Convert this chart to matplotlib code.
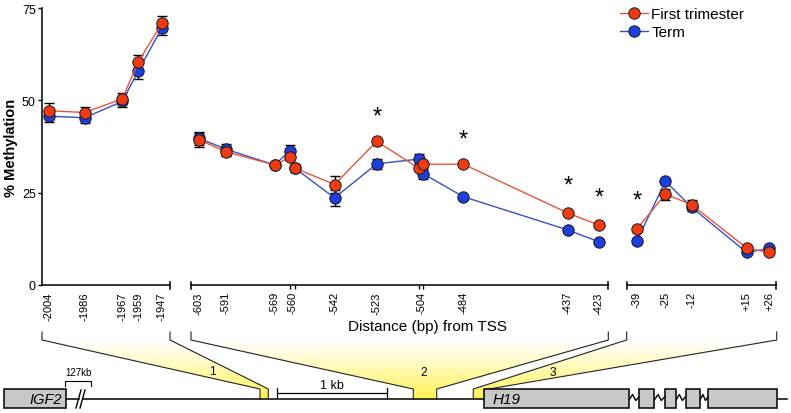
import numpy as np
import matplotlib
matplotlib.use("Agg")
import matplotlib.pyplot as plt
from matplotlib.patches import Polygon, Rectangle

plt.rcParams['font.family'] = ['Liberation Sans', 'DejaVu Sans']

# ---------------- data ----------------
x_seg1 = [-2004, -1986, -1967, -1959, -1947]
first_seg1 = [47.2, 46.7, 50.4, 60.3, 70.9]
first_err1 = [2.0, 1.6, 1.5, 2.0, 2.0]
term_seg1 = [45.7, 45.3, 49.7, 57.9, 69.6]
term_err1 = [1.5, 1.4, 1.4, 2.2, 1.9]

x_seg2 = [-603, -591, -569, -562, -560, -542, -523, -504, -502, -484, -437, -423]
first_seg2 = [39.3, 36.1, 32.5, 34.6, 31.7, 27.2, 38.9, 31.6, 32.7, 32.7, 19.5, 16.2]
first_err2 = [1.8, 1.3, 0.5, 0.8, 1.0, 2.2, 1.0, 0.8, 0.8, 0.5, 0.5, 0.5]
term_seg2 = [39.7, 36.8, 32.5, 36.4, 31.7, 23.6, 32.8, 34.1, 30.1, 23.9, 14.9, 11.7]
term_err2 = [1.8, 1.3, 0.5, 1.5, 0.8, 2.1, 1.3, 1.5, 1.4, 0.5, 0.5, 0.5]

x_seg3 = [-39, -25, -12, 15, 26]
first_seg3 = [15.2, 24.6, 21.7, 10.0, 8.8]
first_err3 = [0.5, 1.5, 1.2, 0.5, 0.5]
term_seg3 = [12.0, 28.1, 21.0, 8.8, 9.9]
term_err3 = [0.5, 0.5, 1.0, 0.5, 0.5]

label_pos1 = [-2004, -1986, -1967, -1959, -1947]
label_txt1 = ['-2004', '-1986', '-1967', '-1959', '-1947']
label_pos2 = [-603, -591, -569, -561, -542, -523, -503, -484, -437, -423]
label_txt2 = ['-603', '-591', '-569', '-560', '-542', '-523', '-504', '-484', '-437', '-423']
label_pos3 = [-39, -25, -12, 15, 26]
label_txt3 = ['-39', '-25', '-12', '+15', '+26']

star_x = [-523, -484, -437, -423]
star_y = [47.2, 40.9, 28.5, 25.3]
star_x3 = [-39]
star_y3 = [24.5]

yticks = [0, 25, 50, 75]
series_names = ['First trimester', 'Term']

# ---------------- styles ----------------
W, H = 791, 414
RED_FACE = '#f03a14'
RED_LINE = '#e4553c'
BLUE_FACE = '#1e3ee0'
BLUE_LINE = '#3550c8'
EDGE = '#1a1a1a'
MS = 8.2

fig = plt.figure(figsize=(W / 100, H / 100), dpi=100)

def add_ax(x0, x1):
    return fig.add_axes([x0 / W, 1 - 286 / H, (x1 - x0) / W, 277 / H])

axd = fig.add_axes([0, 0, 1, 1], zorder=0)
axd.set_axis_off()

ax1 = add_ax(42, 170)
ax2 = add_ax(191, 608)
ax3 = add_ax(627, 776)
for a in (ax1, ax2, ax3):
    a.set_zorder(2)
    a.set_facecolor('none')

ax1.set_xlim(-2007.5, -1942.9)
ax2.set_xlim(-606.6, -418.9)
ax3.set_xlim(-43.9, 29.4)

segs = [
    (ax1, x_seg1, first_seg1, first_err1, term_seg1, term_err1, label_pos1, label_txt1),
    (ax2, x_seg2, first_seg2, first_err2, term_seg2, term_err2, label_pos2, label_txt2),
    (ax3, x_seg3, first_seg3, first_err3, term_seg3, term_err3, label_pos3, label_txt3),
]

handles = None
for ax, xs, fv, fe, tv, te, lp, lt in segs:
    ax.set_ylim(0, 75)
    ax.errorbar(xs, tv, yerr=te, fmt='none', ecolor='black', elinewidth=1.0,
                capsize=3.5, capthick=1.0, zorder=2, clip_on=False)
    ax.errorbar(xs, fv, yerr=fe, fmt='none', ecolor='black', elinewidth=1.0,
                capsize=3.5, capthick=1.0, zorder=2, clip_on=False)
    lb, = ax.plot(xs, tv, '-o', color=BLUE_LINE, lw=1.0, markerfacecolor=BLUE_FACE,
                  markeredgecolor=EDGE, markeredgewidth=0.7, ms=MS, zorder=3, clip_on=False)
    lr, = ax.plot(xs, fv, '-o', color=RED_LINE, lw=1.0, markerfacecolor=RED_FACE,
                  markeredgecolor=EDGE, markeredgewidth=0.7, ms=MS, zorder=4, clip_on=False)
    if handles is None:
        handles = [lr, lb]
    for s in ('top', 'right', 'left'):
        ax.spines[s].set_visible(False)
    ax.spines['bottom'].set_linewidth(1.1)
    ax.set_xticks(lp)
    ax.set_xticklabels(lt, rotation=90, fontsize=8)
    ax.set_xticks(xs, minor=True)
    ax.tick_params(axis='x', which='major', length=0, pad=4.5)
    ax.tick_params(axis='x', which='minor', length=3, width=1.0, direction='out')
    dy = 3.5 / 277
    ends = [1] if ax is ax1 else [0, 1]
    for e in ends:
        ax.plot([e, e], [-dy, dy], transform=ax.transAxes, color='black', lw=1.1,
                clip_on=False)

ax1.spines['left'].set_visible(True)
ax1.spines['left'].set_linewidth(1.1)
ax1.set_yticks(yticks)
ax1.set_yticklabels([str(v) for v in yticks], fontsize=9)
ax1.tick_params(axis='y', length=3, width=1.0, pad=1.5)
for ax in (ax2, ax3):
    ax.set_yticks([])

ax1.set_ylabel('% Methylation', fontsize=10.5, fontweight='bold', va='center')
ax1.yaxis.set_label_coords((11 - 42) / 128, (286 - 148) / 277)

for sx, sy in zip(star_x, star_y):
    ax2.annotate('*', xy=(sx, sy), xytext=(0, -8.5), textcoords='offset points',
                 ha='center', va='baseline', fontsize=17)
for sx, sy in zip(star_x3, star_y3):
    ax3.annotate('*', xy=(sx, sy), xytext=(0, -8.5), textcoords='offset points',
                 ha='center', va='baseline', fontsize=17)

fig.text(428 / W, 1 - 327 / H, 'Distance (bp) from TSS', ha='center', va='center',
         fontsize=11)

fig.legend(handles, series_names, loc='upper left', bbox_to_anchor=(620 / W, 1 - 8 / H),
           frameon=False, fontsize=11, handlelength=1.85, handletextpad=0.2,
           labelspacing=0.28, borderpad=0, borderaxespad=0)

# ---------------- gene diagram ----------------
LC = '#222222'
top_y, bot_y = 341, 400
n = 120
yy = np.linspace(0, 1, n)
t = yy ** 1.1
c_top = np.array([1.0, 1.0, 1.0])
c_bot = np.array([1.0, 0.95, 0.32])
grad = (c_top[None, :] * (1 - t[:, None]) + c_bot[None, :] * t[:, None])[:, None, :]

regions = [
    (42, 170, 260, 268.3, True),
    (191, 608.3, 413.3, 436.7, True),
    (626.7, 776.7, 473.3, 484.5, False),
]
for lt_x, rt_x, lb_x, rb_x, rv in regions:
    poly = Polygon([(lt_x, top_y), (rt_x, top_y), (rb_x, 390), (rb_x, 400),
                    (lb_x, 400), (lb_x, 390)], closed=True, facecolor='none',
                   edgecolor='none')
    axd.add_patch(poly)
    im = axd.imshow(grad, extent=(0, W, bot_y, top_y), origin='upper', aspect='auto',
                    zorder=1, interpolation='bilinear')
    im.set_clip_path(poly)
    axd.plot([lt_x, lt_x, lb_x, lb_x], [333, top_y, 390, 400], color=LC, lw=0.8, zorder=2)
    if rv:
        axd.plot([rt_x, rt_x, rb_x, rb_x], [333, top_y, 390, 400], color=LC, lw=0.8, zorder=2)
    else:
        axd.plot([rt_x, rt_x, rb_x + 1.5], [333, top_y, 390.5], color=LC, lw=0.8, zorder=2)

axd.set_xlim(0, W)
axd.set_ylim(H, 0)

for lbl, (lx, ly) in zip(['1', '2', '3'], [(212.7, 372.5), (423.3, 373), (552.7, 373)]):
    axd.text(lx, ly, lbl, ha='center', va='center', fontsize=8.5, zorder=3)

axd.plot([66, 79], [400, 400], color='black', lw=1.1, zorder=3)
axd.plot([83, 484], [400, 400], color='black', lw=1.1, zorder=3)
axd.plot([777, 787], [400, 400], color='black', lw=1.1, zorder=3)
axd.plot([76, 81], [409, 391], color='black', lw=1.0, zorder=3)
axd.plot([80, 85], [409, 391], color='black', lw=1.0, zorder=3)

axd.plot([65.3, 65.3, 91.3, 91.3], [387, 381.7, 381.7, 387], color='black', lw=0.8, zorder=3)
axd.text(78.3, 373.5, '127kb', ha='center', va='center', fontsize=7, zorder=3)

axd.plot([276.7, 387.3], [394.3, 394.3], color='black', lw=0.9, zorder=3)
axd.plot([276.7, 276.7], [389.5, 399], color='black', lw=0.9, zorder=3)
axd.plot([387.3, 387.3], [389.5, 399], color='black', lw=0.9, zorder=3)
axd.text(332, 386, '1 kb', ha='center', va='center', fontsize=9, zorder=3)

GRAY = '#c8c8c8'
def box(x0, x1):
    axd.add_patch(Rectangle((x0, 390.5), x1 - x0, 19, facecolor=GRAY, edgecolor='black',
                            lw=1.1, zorder=4))

box(4, 66)
axd.text(62, 400.5, 'IGF2', ha='right', va='center', fontsize=10.5, style='italic', zorder=5)

exons = [(483.5, 629), (639.3, 654.3), (665, 676), (685.7, 700), (708.3, 777.3)]
for x0, x1 in exons:
    box(x0, x1)
for (a0, a1), (b0, b1) in zip(exons[:-1], exons[1:]):
    w = b0 - a1
    axd.plot([a1, a1 + 0.35 * w, a1 + 0.65 * w, b0], [401, 395.5, 401.5, 397.5],
             color='black', lw=1.0, zorder=3)
axd.text(493, 400.5, 'H19', ha='left', va='center', fontsize=11, style='italic', zorder=5)

fig.savefig('out.png', dpi=100)
